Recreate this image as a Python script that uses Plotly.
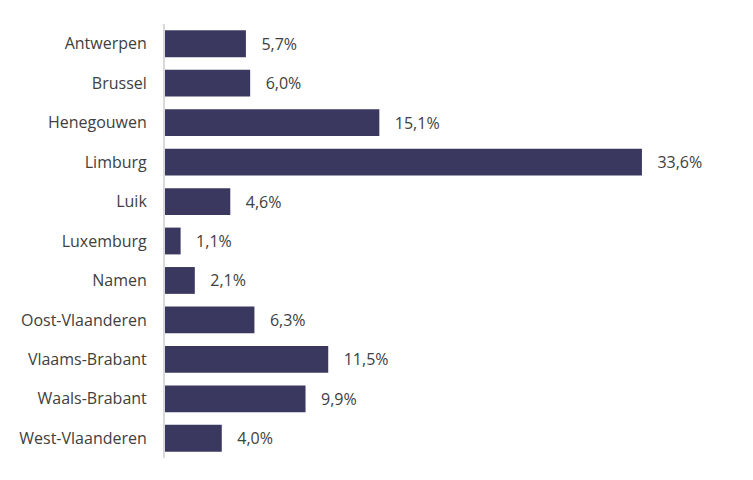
import plotly.graph_objects as go

provinces = ["Antwerpen", "Brussel", "Henegouwen", "Limburg", "Luik", "Luxemburg",
             "Namen", "Oost-Vlaanderen", "Vlaams-Brabant", "Waals-Brabant", "West-Vlaanderen"]
shares = [5.7, 6.0, 15.1, 33.6, 4.6, 1.1, 2.1, 6.3, 11.5, 9.9, 4.0]
labels = ["   " + f"{v:.1f}".replace(".", ",") + "%" for v in shares]

fig = go.Figure()
fig.add_trace(go.Bar(
    x=shares, y=provinces, orientation="h",
    marker=dict(color="#3B3860", line=dict(width=0)),
    text=labels, textposition="outside", cliponaxis=False,
    textfont=dict(size=16, color="#404040"),
))

fig.update_layout(
    width=753, height=480,
    margin=dict(l=157, r=85, t=16, b=30),
    paper_bgcolor="white", plot_bgcolor="white",
    font=dict(family="Open Sans, sans-serif", size=16, color="#404040"),
    bargap=0.32,
    showlegend=False,
    xaxis=dict(range=[0, 36], visible=False, automargin=False),
    yaxis=dict(autorange="reversed", showline=True, linecolor="#D9D9D9", linewidth=2,
               ticks="", ticklabelstandoff=13, showgrid=False, automargin=False),
)

fig.write_html("out.html")
